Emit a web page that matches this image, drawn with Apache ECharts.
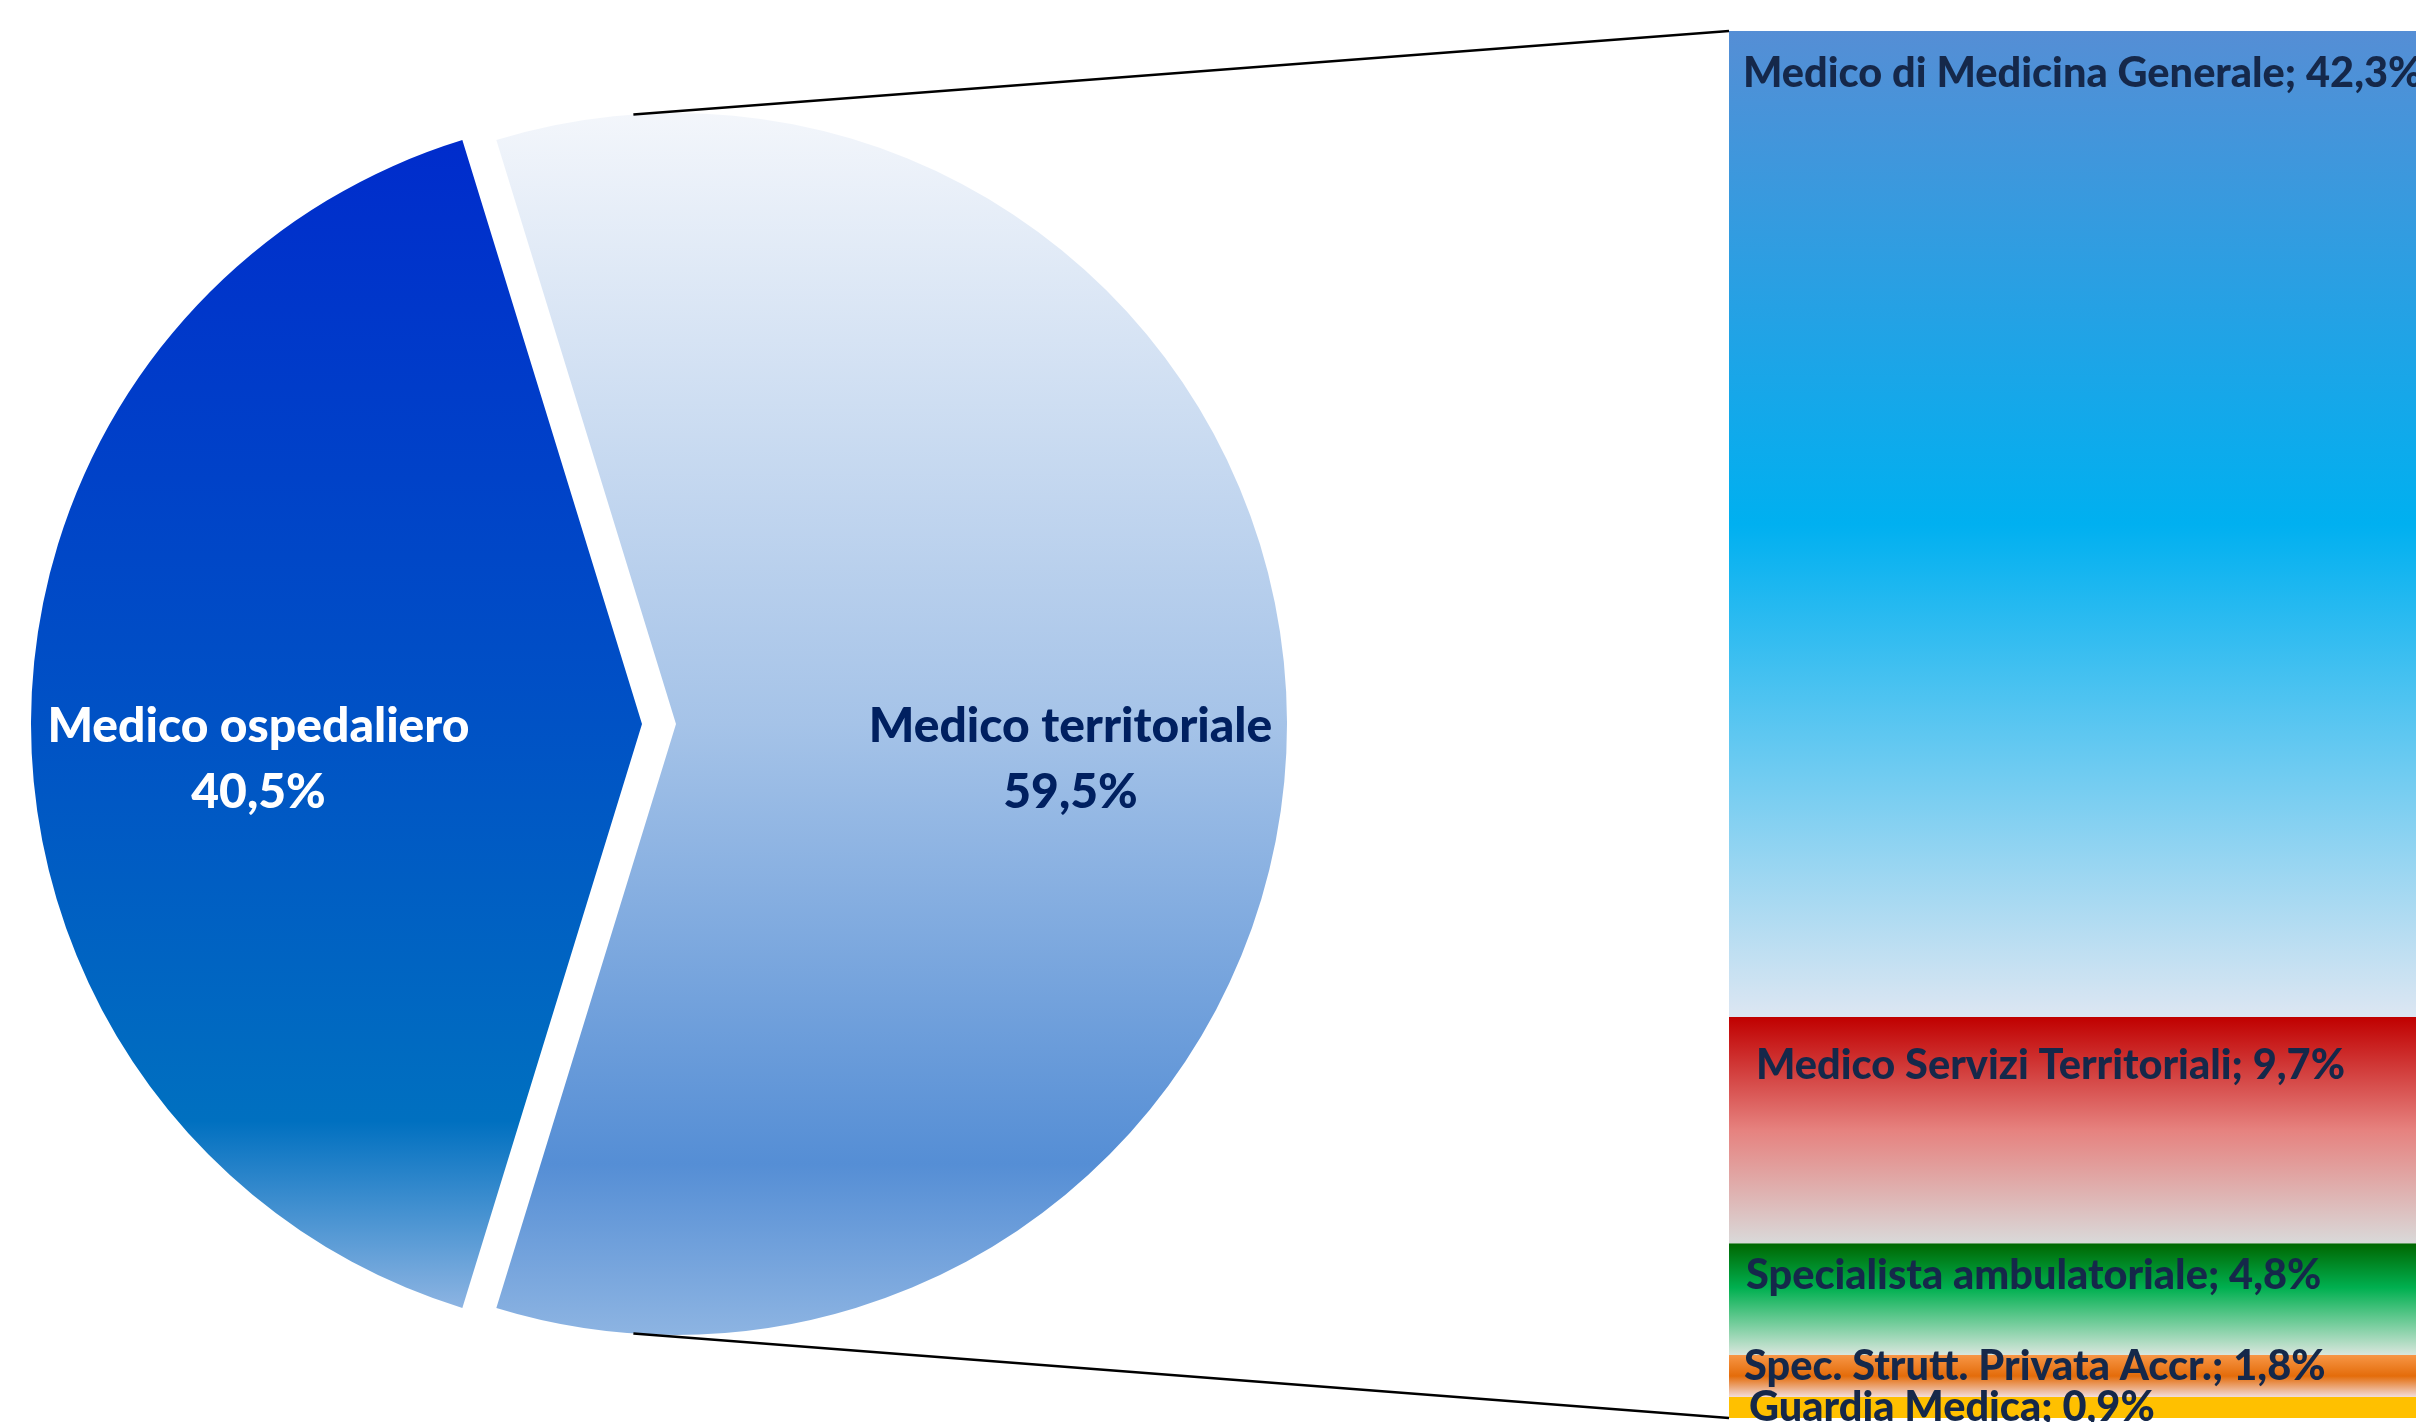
<!DOCTYPE html>
<html><head><meta charset="utf-8">
<script src="https://cdn.jsdelivr.net/npm/echarts@6/dist/echarts.min.js"></script>
<style>html,body{margin:0;padding:0;background:#fff;overflow:hidden}#c{width:2416px;height:1422px}</style>
</head><body><div id="c"></div>
<script>
// ---- data ----
const pieNames = ['Medico ospedaliero', 'Medico territoriale'];
const pieValues = [40.5, 59.5];
const barNames = ['Medico di Medicina Generale', 'Medico Servizi Territoriali', 'Specialista ambulatoriale', 'Spec. Strutt. Privata Accr.', 'Guardia Medica'];
const barValues = [42.3, 9.7, 4.8, 1.8, 0.9];

// ---- style ----
const FONT = 'Lato';
const FW = 900;
const FS_BAR = 41.5;
const FS_PIE = 48;
const PIE_C = [659, 724], PIE_R = 611, PIE_OFF = 17;
const GRID_LEFT = 1729, GRID_TOP = 31, GRID_H = 1387;
const fmt = v => v.toFixed(1).replace('.', ',') + '%';
const vgrad = stops => ({type: 'linear', x: 0, y: 0, x2: 0, y2: 1,
  colorStops: stops.map(s => ({offset: s[0], color: s[1]}))});

const pieColors = [
  vgrad([[0, '#002CCC'], [0.5, '#0052C5'], [0.84, '#0070C0'], [1, '#8DB4E2']]),
  vgrad([[0, '#F3F6FB'], [0.5, '#A5C3E8'], [0.86, '#558ED5'], [1, '#8DB4E2']])
];
const pieLabelColors = ['#FFFFFF', '#002060'];
const pieLabelShift = [[-75, 36], [86, 36]];

const barColors = [
  vgrad([[0, '#558ED5'], [0.5, '#00B0F0'], [1, '#DCE6F2']]),
  vgrad([[0, '#C00000'], [0.5, '#E6827F'], [1, '#D9D9D9']]),
  vgrad([[0, '#006600'], [0.4, '#00B050'], [1, '#D9E6DD']]),
  vgrad([[0, '#F79646'], [0.5, '#E46C0A'], [1, '#F2DCDB']]),
  vgrad([[0, '#FFC000'], [1, '#FFC000']])
];
const barLabelPos = [[14, 43], [27, 49], [17, 32], [15, 12], [20, 11]];

const total = barValues.reduce((a, b) => a + b, 0);
const startAngle = 180 + pieValues[0] / (pieValues[0] + pieValues[1]) * 180;

const barSeries = barNames.map((n, i) => ({
  type: 'bar', name: n, stack: 'all', data: [barValues[i]],
  barWidth: '100%', silent: true,
  itemStyle: {color: barColors[i]},
  label: {show: true, position: barLabelPos[i], align: 'left', verticalAlign: 'middle',
    formatter: n + '; ' + fmt(barValues[i]),
    fontFamily: FONT, fontWeight: FW, fontSize: FS_BAR, color: '#15284A'}
})).reverse();

const chart = echarts.init(document.getElementById('c'), null, {renderer: 'canvas'});
chart.setOption({
  animation: false,
  backgroundColor: '#ffffff',
  grid: {left: GRID_LEFT, top: GRID_TOP, height: GRID_H, width: 1200},
  xAxis: {type: 'category', data: [''], show: false},
  yAxis: {type: 'value', min: 0, max: total, show: false},
  series: [
    {
      type: 'pie', center: PIE_C, radius: PIE_R, startAngle: startAngle, clockwise: true,
      selectedMode: 'multiple', selectedOffset: PIE_OFF, silent: true,
      emphasis: {disabled: true},
      data: pieNames.map((n, i) => ({name: n, value: pieValues[i], selected: true,
        itemStyle: {color: pieColors[i]},
        label: {color: pieLabelColors[i]}})),
      label: {show: true, position: 'inside', formatter: p => p.name + '\n' + fmt(p.value),
        fontFamily: FONT, fontWeight: FW, fontSize: FS_PIE, lineHeight: 66, align: 'center'},
      labelLine: {show: false},
      labelLayout: p => ({dx: pieLabelShift[p.dataIndex][0], dy: pieLabelShift[p.dataIndex][1]})
    },
    ...barSeries
  ]
});

// connector lines from the territorial slice to the bar's corners
const ang = 94 * Math.PI / 180;
const tcx = PIE_C[0] + PIE_OFF;
const yTop = chart.convertToPixel({yAxisIndex: 0}, total);
const yBot = chart.convertToPixel({yAxisIndex: 0}, 0);
const p1 = [tcx + PIE_R * Math.cos(ang), PIE_C[1] - PIE_R * Math.sin(ang)];
const p2 = [tcx + PIE_R * Math.cos(ang), PIE_C[1] + PIE_R * Math.sin(ang)];
chart.setOption({graphic: [
  {type: 'line', shape: {x1: p1[0], y1: p1[1], x2: GRID_LEFT, y2: yTop}, style: {stroke: '#000', lineWidth: 2.5}, z: 10},
  {type: 'line', shape: {x1: p2[0], y1: p2[1], x2: GRID_LEFT, y2: yBot}, style: {stroke: '#000', lineWidth: 2.5}, z: 10}
]});
</script></body></html>
